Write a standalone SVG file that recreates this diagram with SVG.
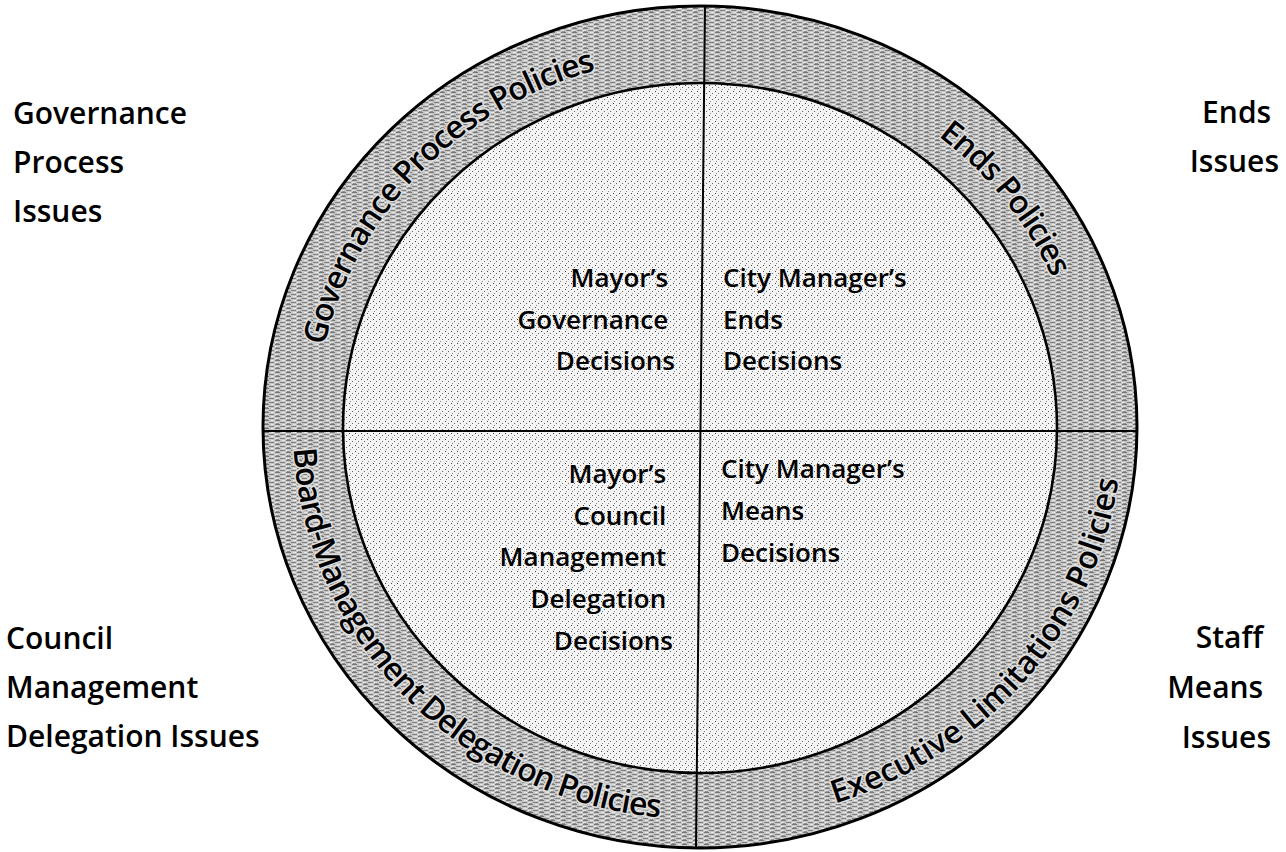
<svg xmlns="http://www.w3.org/2000/svg" xmlns:xlink="http://www.w3.org/1999/xlink" width="1286" height="852" viewBox="0 0 1286 852">
  <defs>
    <!-- coarse streaked grey for the policy ring -->
    <pattern id="grain" width="11" height="4" patternUnits="userSpaceOnUse">
      <rect width="11" height="4" fill="#c6c6c6"/>
      <rect x="0" y="0" width="5" height="1" fill="#767676"/>
      <rect x="5" y="2" width="5" height="1" fill="#808080"/>
      <rect x="7" y="0" width="3" height="1" fill="#e8e8e8"/>
      <rect x="1" y="3" width="3" height="1" fill="#909090"/>
      <rect x="0" y="2" width="3" height="1" fill="#e4e4e4"/>
    </pattern>
    <!-- fine stipple for the decision quadrants -->
    <pattern id="stipple" width="6" height="6" patternUnits="userSpaceOnUse">
      <rect width="6" height="6" fill="#f4f4f4"/>
      <rect x="1" y="1" width="1" height="1" fill="#444"/>
      <rect x="4" y="3" width="1" height="1" fill="#666"/>
      <rect x="2" y="5" width="1" height="1" fill="#888"/>
    </pattern>
    <!-- baselines for the ring captions -->
    <path id="arcTop" d="M 315,427.5 A 385,371 0 0 1 1085,427.5"/>
    <path id="arcBottom" d="M 293,427.5 A 407,392 0 0 0 1107,427.5"/>
    <path id="arcBottomWide" d="M 278,427.5 A 422,397 0 0 0 1122,427.5"/>
    <style>
      text { font-family: "Open Sans", "Liberation Sans", sans-serif; fill: #000; font-weight: 600; }
      .side { font-size: 30px; }
      .quad { font-size: 26px; }
      .ring { font-size: 32px; letter-spacing: -1.2px; stroke: #dedede; stroke-width: 3px; paint-order: stroke; stroke-linejoin: round; }
      .ring.loose { letter-spacing: 0px; }
      .edge { stroke: #000; fill: none; }
    </style>
  </defs>

  <rect width="1286" height="852" fill="#fff"/>

  <!-- outer policy ring and inner decision disc -->
  <g id="ring">
    <ellipse cx="700" cy="427" rx="437" ry="421" fill="url(#grain)" stroke="#000" stroke-width="3"/>
  </g>
  <g id="disc">
    <ellipse cx="700" cy="428" rx="357" ry="345" fill="url(#stipple)" stroke="#000" stroke-width="2.6"/>
  </g>

  <!-- quadrant dividers -->
  <g id="connectors">
    <line class="edge" x1="705" y1="6" x2="696" y2="847" stroke-width="2"/>
    <line class="edge" x1="263" y1="431" x2="1137" y2="431" stroke-width="2"/>
  </g>

  <!-- ring captions -->
  <g id="ring-governance">
    <text class="ring"><textPath xlink:href="#arcTop" href="#arcTop" startOffset="24.0%" text-anchor="middle">Governance Process Policies</textPath></text>
  </g>
  <g id="ring-ends">
    <text class="ring"><textPath xlink:href="#arcTop" href="#arcTop" startOffset="79.2%" text-anchor="middle">Ends Policies</textPath></text>
  </g>
  <g id="ring-delegation">
    <text class="ring"><textPath xlink:href="#arcBottom" href="#arcBottom" startOffset="24.2%" text-anchor="middle">Board-Management Delegation Policies</textPath></text>
  </g>
  <g id="ring-limitations">
    <text class="ring loose"><textPath xlink:href="#arcBottomWide" href="#arcBottomWide" startOffset="78.3%" text-anchor="middle">Executive Limitations Policies</textPath></text>
  </g>

  <!-- quadrant captions -->
  <g id="q-mayor-governance">
    <text class="quad" text-anchor="end">
      <tspan x="675" y="287">Mayor’s</tspan>
      <tspan x="675" y="329">Governance</tspan>
      <tspan x="675" y="370">Decisions</tspan>
    </text>
  </g>
  <g id="q-manager-ends">
    <text class="quad">
      <tspan x="723" y="287">City Manager’s</tspan>
      <tspan x="723" y="329">Ends</tspan>
      <tspan x="723" y="370">Decisions</tspan>
    </text>
  </g>
  <g id="q-mayor-council">
    <text class="quad" text-anchor="end">
      <tspan x="673" y="483">Mayor’s</tspan>
      <tspan x="673" y="525">Council</tspan>
      <tspan x="673" y="566">Management</tspan>
      <tspan x="673" y="608">Delegation</tspan>
      <tspan x="673" y="650">Decisions</tspan>
    </text>
  </g>
  <g id="q-manager-means">
    <text class="quad">
      <tspan x="721" y="478">City Manager’s</tspan>
      <tspan x="721" y="520">Means</tspan>
      <tspan x="721" y="562">Decisions</tspan>
    </text>
  </g>

  <!-- corner issue labels -->
  <g id="issues-governance">
    <text class="side">
      <tspan x="13" y="124">Governance</tspan>
      <tspan x="13" y="173">Process</tspan>
      <tspan x="13" y="222">Issues</tspan>
    </text>
  </g>
  <g id="issues-ends">
    <text class="side" text-anchor="end">
      <tspan x="1279" y="123">Ends</tspan>
      <tspan x="1279" y="172">Issues</tspan>
    </text>
  </g>
  <g id="issues-council">
    <text class="side">
      <tspan x="6" y="649">Council</tspan>
      <tspan x="6" y="698">Management</tspan>
      <tspan x="6" y="747">Delegation Issues</tspan>
    </text>
  </g>
  <g id="issues-staff">
    <text class="side" text-anchor="end">
      <tspan x="1271" y="648">Staff</tspan>
      <tspan x="1271" y="698">Means</tspan>
      <tspan x="1271" y="748">Issues</tspan>
    </text>
  </g>
</svg>
